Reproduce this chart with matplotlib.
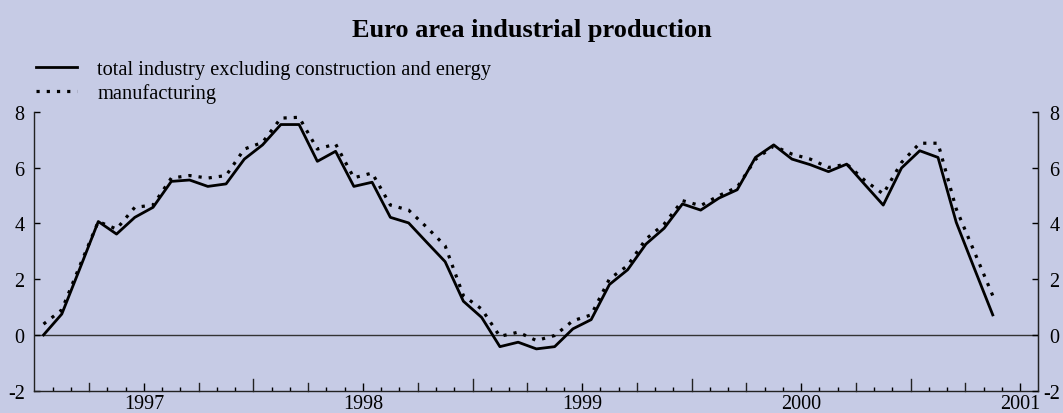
import numpy as np
import matplotlib
matplotlib.use("Agg")
import matplotlib.pyplot as plt

# monthly data, Jul 1996 - Nov 2000 (annual percentage changes)
total_ind = [0.0, 0.75, 2.4, 4.07, 3.62, 4.22, 4.58, 5.51, 5.56, 5.33, 5.42, 6.31,
             6.82, 7.55, 7.55, 6.23, 6.59, 5.33, 5.48, 4.22, 4.02, 3.32, 2.63, 1.21,
             0.63, -0.42, -0.26, -0.5, -0.42, 0.22, 0.55, 1.81, 2.34, 3.26, 3.83, 4.70,
             4.48, 4.91, 5.21, 6.37, 6.82, 6.31, 6.11, 5.86, 6.13, 5.39, 4.66, 5.99,
             6.61, 6.37, 4.04, 2.37, 0.72]
manuf = [0.39, 0.9, 2.5, 4.07, 3.80, 4.58, 4.66, 5.63, 5.72, 5.63, 5.72, 6.67,
         6.91, 7.78, 7.81, 6.67, 6.85, 5.64, 5.81, 4.66, 4.48, 3.86, 3.20, 1.41,
         0.93, -0.05, 0.10, -0.20, -0.02, 0.51, 0.72, 2.01, 2.49, 3.44, 3.98, 4.82,
         4.64, 5.00, 5.30, 6.30, 6.78, 6.49, 6.31, 6.01, 6.13, 5.54, 5.06, 6.19,
         6.88, 6.88, 4.52, 2.97, 1.41]
years = ["1997", "1998", "1999", "2000", "2001"]
labels = ["total industry excluding construction and energy", "manufacturing"]

bg = "#c6cbe5"
plt.rcParams["font.family"] = ["Liberation Serif", "DejaVu Serif"]
plt.rcParams["axes.unicode_minus"] = False

fig = plt.figure(figsize=(10.63, 4.14), dpi=100, facecolor=bg)
ax = fig.add_axes([34.4 / 1063, 22.3 / 414, (1038.4 - 34.4) / 1063, (391.7 - 113) / 414])
ax.set_facecolor(bg)

x = np.arange(len(total_ind)) + 0.5
ax.plot(x, total_ind, color="black", lw=2.0, label=labels[0])
ax.plot(x, manuf, color="black", lw=2.3, linestyle=(0, (1, 2.2)), label=labels[1])
ax.axhline(0, color="#333333", lw=1.0, zorder=0)

ax.set_xlim(0, 55)
ax.set_ylim(-2, 8)
ax.spines["top"].set_visible(False)
for s in ["left", "right", "bottom"]:
    ax.spines[s].set_color("#222222")
    ax.spines[s].set_linewidth(1.0)

# x ticks: months small, quarters medium, July tall, year labels in January
ax.set_xticks([m for m in range(1, 55) if m % 3 != 0], minor=True)
ax.set_xticks(np.arange(6, 55, 12))
ax.set_xticklabels(years)
ax.tick_params(axis="x", which="major", direction="in", length=6, width=1, labelsize=14.5, pad=2.5)
ax.tick_params(axis="x", which="minor", direction="in", length=3.2, width=1)
for m in range(3, 55, 3):
    if (m - 6) % 12 == 0:
        continue
    h = 12 if m % 12 == 0 else 8
    ax.plot([m, m], [0, h / 279], transform=ax.get_xaxis_transform(),
            color="#222222", lw=1.0, clip_on=False)

ax.set_yticks(np.arange(-2, 9, 2))
ax.tick_params(axis="y", direction="in", length=4, width=1, labelsize=14.5, pad=7)

ax2 = ax.twinx()
ax2.set_ylim(ax.get_ylim())
ax2.set_yticks(np.arange(-2, 9, 2))
ax2.tick_params(axis="y", direction="in", length=4, width=1, labelsize=14.5, pad=15.3)
for t in ax2.get_yticklabels():
    t.set_horizontalalignment("right")
for s in ["top", "left", "bottom"]:
    ax2.spines[s].set_visible(False)
ax2.spines["right"].set_color("#222222")

ax.legend(loc="lower left", bbox_to_anchor=(28 / 1063, (414 - 112) / 414),
          bbox_transform=fig.transFigure, frameon=False, fontsize=14.7,
          handlelength=2.0, handletextpad=1.0, labelspacing=0.2, borderaxespad=0)

fig.text(0.5, (414 - 30) / 414, "Euro area industrial production", ha="center", va="center",
         fontsize=19, fontweight="bold")

fig.savefig("out.png", dpi=100, facecolor=bg)
